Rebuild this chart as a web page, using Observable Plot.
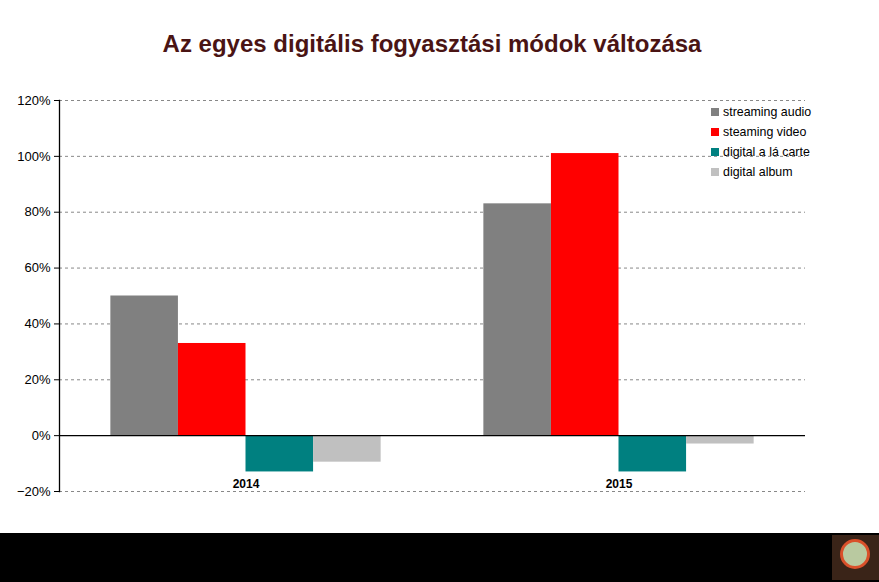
<!DOCTYPE html>
<html>
<head>
<meta charset="utf-8">
<script src="https://cdn.jsdelivr.net/npm/d3@7"></script>
<script src="https://cdn.jsdelivr.net/npm/@observablehq/plot@0.6"></script>
<style>
  html, body { margin: 0; padding: 0; background: #fff; }
  #wrap { position: relative; width: 879px; height: 582px; overflow: hidden; font-family: "Liberation Sans", Arial, sans-serif; }
  #title { position: absolute; left: 0; top: 29px; width: 864px; text-align: center; font-size: 24px; font-weight: bold; color: #4a1414; line-height: 30px; }
  #chart { position: absolute; left: 0; top: 75px; }
  #legend { position: absolute; left: 711px; top: 102px; font-size: 12.4px; color: #000; }
  #legend .row { height: 20px; display: flex; align-items: center; }
  #legend .sw { width: 8px; height: 8px; margin-right: 4px; }
  #band { position: absolute; left: 0; top: 533px; width: 879px; height: 49px; background: #000; }
  #logo { position: absolute; left: 832px; top: 535px; width: 47px; height: 45px; background: #3a2418; }
  #logo .c { position: absolute; left: 8px; top: 4px; width: 30px; height: 30px; border-radius: 50%; border: 3px solid #d9502a; background: #b9c9a0; box-sizing: border-box; }
</style>
</head>
<body>
<div id="wrap">
  <div id="title">Az egyes digitális fogyasztási módok változása</div>
  <div id="chart"></div>
  <div id="legend"></div>
  <div id="band"></div>
  <div id="logo"><div class="c"></div></div>
</div>
<script>
const years = ["2014", "2015"];
const series = ["streaming audio", "steaming video", "digital a lá carte", "digital album"];
const colors = ["#808080", "#ff0000", "#008080", "#c0c0c0"];
const values2014 = [0.50, 0.33, -0.13, -0.095];
const values2015 = [0.83, 1.01, -0.13, -0.03];
const yTicks = [-0.2, 0, 0.2, 0.4, 0.6, 0.8, 1.0, 1.2];

const valuesByYear = {"2014": values2014, "2015": values2015};
const data = years.flatMap(yr => series.map((s, i) => ({year: yr, series: s, value: valuesByYear[yr][i]})));

const chart = Plot.plot({
  width: 879,
  height: 458,
  marginTop: 25,
  marginLeft: 59,
  marginRight: 74,
  marginBottom: 42,
  style: {fontFamily: "'Liberation Sans', Arial, sans-serif", fontSize: "13px", color: "#000", background: "transparent"},
  fx: {domain: years, padding: 0, axis: null, round: false},
  x: {domain: series, axis: null, paddingInner: 0, paddingOuter: 0.76, round: false},
  y: {domain: [-0.2, 1.2], ticks: yTicks, tickFormat: d3.format(".0%"), tickSize: 5, tickPadding: 4, label: null},
  color: {domain: series, range: colors},
  marks: [
    Plot.ruleY(yTicks.filter(t => t !== 0), {stroke: "#888", strokeDasharray: "3,3", strokeWidth: 1}),
    Plot.barY(data, {fx: "year", x: "series", y: "value", fill: "series"}),
    Plot.ruleY([0], {stroke: "#000", strokeWidth: 1.3}),
    Plot.frame({anchor: "left", fx: ["2014"], stroke: "#000", strokeWidth: 1.3}),
    Plot.text(years, {fx: d => d, text: d => d, frameAnchor: "bottom", lineAnchor: "middle", dy: -7, fontWeight: "bold", fontSize: 12, fill: "#000"})
  ]
});
document.getElementById("chart").appendChild(chart);

const legend = document.getElementById("legend");
series.forEach((s, i) => {
  const row = document.createElement("div");
  row.className = "row";
  const sw = document.createElement("div");
  sw.className = "sw";
  sw.style.background = colors[i];
  const t = document.createElement("span");
  t.textContent = s;
  row.appendChild(sw);
  row.appendChild(t);
  legend.appendChild(row);
});
</script>
</body>
</html>
